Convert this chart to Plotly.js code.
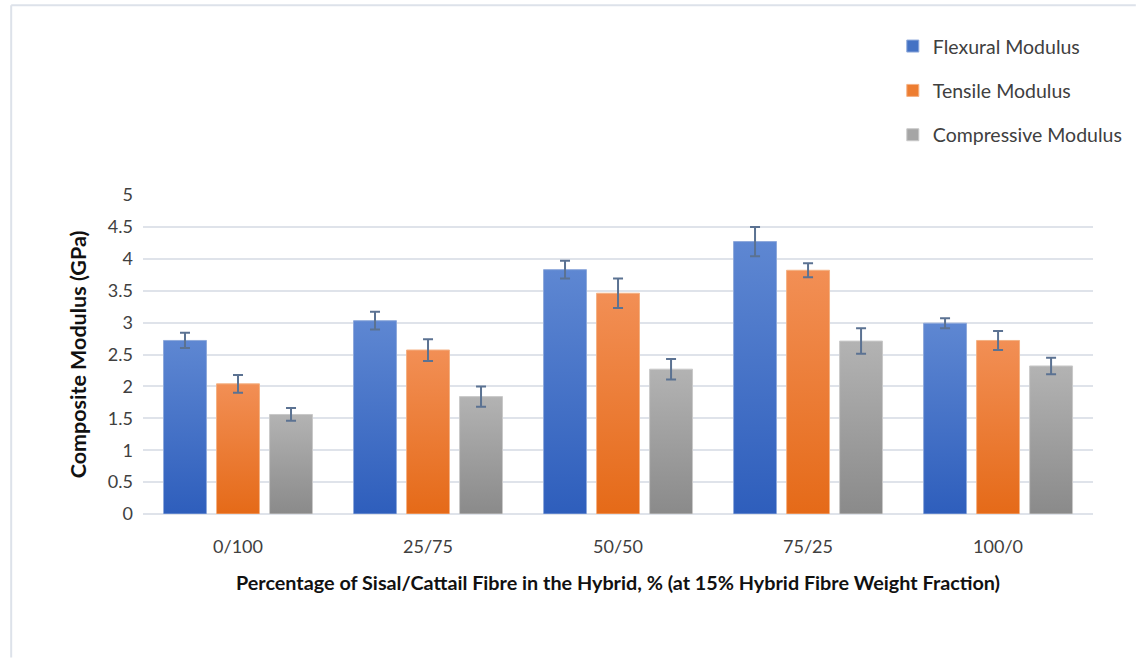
<!DOCTYPE html>
<html>
<head>
<meta charset="utf-8">
<script src="https://cdn.plot.ly/plotly-3.0.1.min.js"></script>
<style>
  html, body { margin: 0; padding: 0; background: #fff; }
  #chart { width: 1137px; height: 659px; }
</style>
</head>
<body>
<div id="chart"></div>
<script>
// ---- data ----
const categories = ["0/100", "25/75", "50/50", "75/25", "100/0"];
const flexural = [2.72, 3.03, 3.83, 4.27, 2.99];
const flexuralErr = [0.12, 0.14, 0.14, 0.23, 0.08];
const tensile = [2.04, 2.57, 3.46, 3.82, 2.72];
const tensileErr = [0.14, 0.17, 0.23, 0.11, 0.15];
const compressive = [1.56, 1.84, 2.27, 2.71, 2.32];
const compressiveErr = [0.10, 0.16, 0.16, 0.20, 0.13];
const seriesNames = ["Flexural Modulus", "Tensile Modulus", "Compressive Modulus"];
const yTicks = [0, 0.5, 1, 1.5, 2, 2.5, 3, 3.5, 4, 4.5, 5];

const baseColors = ["#4472C4", "#ED7D31", "#A5A5A5"];
const lineColors = ["#8EA9DB", "#F4B183", "#C9C9C9"];
const gradStops = [
  ["#5E87D2", "#2E5EBC"],
  ["#F28F55", "#E56A18"],
  ["#B3B3B3", "#8A8A8A"]
];
const errColor = "#5B7292";

function mk(i, y, err) {
  return {
    type: "bar",
    name: seriesNames[i],
    x: categories,
    y: y,
    legendgroup: "g" + i,
    marker: { color: baseColors[i], line: { color: lineColors[i], width: 1 } },
    error_y: { type: "data", array: err, visible: true, color: errColor, thickness: 2, width: 5 },
    hoverinfo: "x+y+name"
  };
}

const data = [
  mk(0, flexural, flexuralErr),
  mk(1, tensile, tensileErr),
  mk(2, compressive, compressiveErr)
];

const fontFam = "Lato, 'Open Sans', 'DejaVu Sans', sans-serif";

const layout = {
  width: 1137,
  height: 659,
  paper_bgcolor: "#ffffff",
  plot_bgcolor: "#ffffff",
  margin: { l: 143, r: 10, t: 195, b: 145 },
  barmode: "group",
  bargap: 0.163,
  bargroupgap: 0.19,
  font: { family: fontFam, color: "#404040", size: 18 },
  showlegend: true,
  legend: {
    orientation: "v",
    x: 0.762, xanchor: "left",
    y: 1.527, yanchor: "top",
    font: { family: fontFam, size: 19.5, color: "#404040" },
    tracegroupgap: 16,
    traceorder: "grouped",
    bgcolor: "rgba(0,0,0,0)"
  },
  xaxis: {
    type: "category",
    domain: [0, 0.9665],
    tickfont: { size: 18, color: "#404040" },
    showgrid: false,
    showline: false,
    ticks: "",
    ticklen: 0,
    ticklabelstandoff: 20,
    title: {
      text: "<b>Percentage of Sisal/Cattail Fibre in the Hybrid, % (at 15% Hybrid Fibre Weight Fraction)</b>",
      font: { size: 19.8, color: "#111111", family: fontFam },
      standoff: 20
    }
  },
  yaxis: {
    range: [0, 5],
    tickvals: yTicks,
    ticktext: yTicks.map(String),
    tickfont: { size: 18, color: "#404040" },
    showgrid: true,
    gridcolor: "#DFE3EA",
    gridwidth: 2,
    zeroline: true,
    zerolinecolor: "#DFE3EA",
    zerolinewidth: 2,
    showline: false,
    ticks: "",
    ticklabelstandoff: 9,
    title: {
      text: "<b>Composite Modulus (GPa)</b>",
      font: { size: 21.5, color: "#111111", family: fontFam },
      standoff: 15
    }
  },
  shapes: [
    { type: "line", xref: "paper", yref: "paper", x0: -0.1341, x1: -0.1341, y0: -0.45, y1: 1.595,
      line: { color: "#DDE2EA", width: 2 } },
    { type: "line", xref: "paper", yref: "paper", x0: -0.1341, x1: 1.01, y0: 1.595, y1: 1.595,
      line: { color: "#DDE2EA", width: 2 } }
  ]
};

Plotly.newPlot("chart", data, layout, { displayModeBar: false, responsive: false }).then(function (gd) {
  const svgNS = "http://www.w3.org/2000/svg";
  const svg = gd.querySelector("svg.main-svg");
  let defs = svg.querySelector("defs");
  if (!defs) { defs = document.createElementNS(svgNS, "defs"); svg.insertBefore(defs, svg.firstChild); }
  gradStops.forEach(function (st, i) {
    const lg = document.createElementNS(svgNS, "linearGradient");
    lg.setAttribute("id", "barGrad" + i);
    lg.setAttribute("x1", "0"); lg.setAttribute("y1", "0");
    lg.setAttribute("x2", "0"); lg.setAttribute("y2", "1");
    [[0, st[0]], [1, st[1]]].forEach(function (s) {
      const stop = document.createElementNS(svgNS, "stop");
      stop.setAttribute("offset", s[0]);
      stop.setAttribute("stop-color", s[1]);
      lg.appendChild(stop);
    });
    defs.appendChild(lg);
  });
  const traces = gd.querySelectorAll(".barlayer .trace");
  traces.forEach(function (tr, i) {
    tr.querySelectorAll("path").forEach(function (p) {
      p.style.fill = "url(#barGrad" + i + ")";
      p.style.fillOpacity = 1;
    });
  });
});
</script>
</body>
</html>
